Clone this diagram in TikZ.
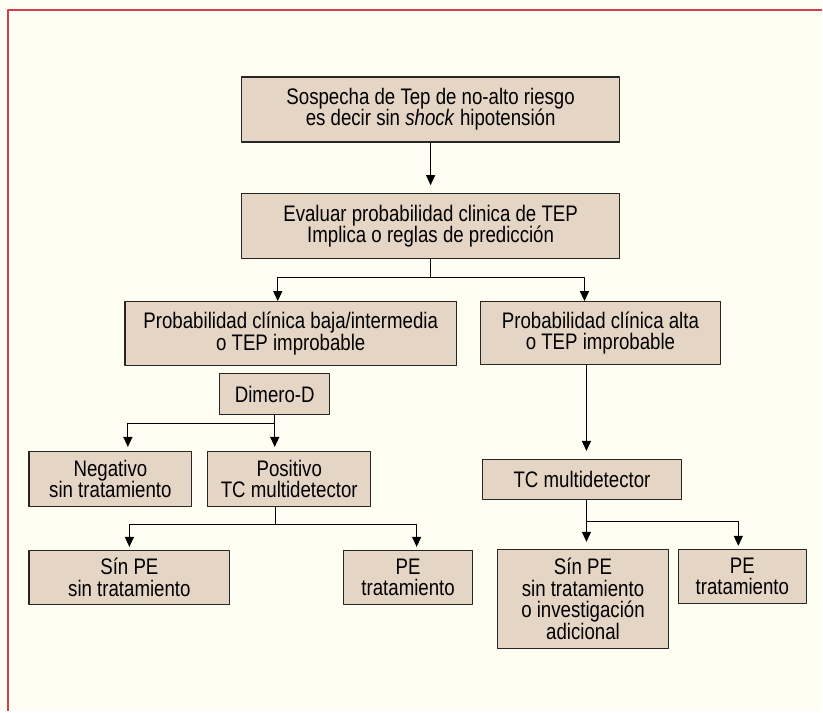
\documentclass[tikz,border=0pt]{standalone}
\usepackage{fontspec}
\setmainfont{Liberation Sans}[FakeStretch=0.83]
\usetikzlibrary{arrows.meta}
\definecolor{fondo}{RGB}{255,254,242}
\definecolor{caja}{RGB}{229,213,197}
\definecolor{borde}{RGB}{208,64,80}
\tikzset{paso/.style={draw=black!85,fill=caja,line width=1.3pt,align=center,inner sep=0pt}}
\begin{document}
\begin{tikzpicture}[x=1pt,y=-1pt,line join=round,>={Triangle[length=10pt,width=9pt]},font=\fontsize{22.5}{21.5}\selectfont,line width=1.2pt]
\fill[fondo] (0,0) rectangle (823,712);
\draw[borde,line width=1.5pt] (823,10)--(8,10)--(8,712);
\node[paso,minimum width=378pt,minimum height=65pt] (sosp) at (431,109.5) {Sospecha de Tep de no-alto riesgo\\es decir sin \textit{shock} hipotensión};
\node[paso,minimum width=378pt,minimum height=65pt] (eval) at (431,226.5) {Evaluar probabilidad clinica de TEP\\Implica o reglas de predicción};
\node[paso,minimum width=332pt,minimum height=64pt] (baja) at (291,334) {Probabilidad clínica baja/intermedia\\o TEP improbable};
\node[paso,minimum width=240pt,minimum height=63pt] (alta) at (601,333.5) {Probabilidad clínica alta\\o TEP improbable};
\node[paso,minimum width=110pt,minimum height=41pt] (dimero) at (275,394.5) {Dimero-D};
\node[paso,minimum width=163pt,minimum height=55pt] (neg) at (110.5,479.5) {Negativo\\sin tratamiento};
\node[paso,minimum width=163pt,minimum height=55pt] (pos) at (289.5,479.5) {Positivo\\TC multidetector};
\node[paso,minimum width=201pt,minimum height=54pt] (sinpeA) at (129.5,578) {Sín PE\\sin tratamiento};
\node[paso,minimum width=129pt,minimum height=54pt] (peA) at (408.5,578) {PE\\tratamiento};
\node[paso,minimum width=199pt,minimum height=40pt] (tc) at (582.5,480) {TC multidetector};
\node[paso,minimum width=171pt,minimum height=99pt] (sinpeB) at (583.5,599.5) {Sín PE\\sin tratamiento\\o investigación\\adicional};
\node[paso,minimum width=128pt,minimum height=54pt] (peB) at (743,577) {PE\\tratamiento};
\draw[->,shorten >=8pt] (sosp) -- (eval);
\draw[->] (eval.south) -- ++(0,18) -| ([xshift=-13pt]baja.north);
\draw[->] (eval.south) -- ++(0,18) -| ([xshift=-16pt]alta.north);
\draw[->,shorten >=4pt] (dimero.south) -- ++(0,8) -| ([xshift=17.5pt]neg.north);
\draw[->,shorten >=4pt] (dimero.south) -- (dimero.south |- pos.north);
\coordinate (p) at ([xshift=-13.5pt]pos.south);
\draw[->,shorten >=3pt] (p) -- ++(0,17) -| (sinpeA.north);
\draw[->,shorten >=3pt] (p) -- ++(0,17) -| ([xshift=8.5pt]peA.north);
\draw[->,shorten >=8pt] ([xshift=-14pt]alta.south) -- ([xshift=-14pt]alta.south |- tc.north);
\coordinate (t) at ([xshift=4.5pt]tc.south);
\draw[->,shorten >=7pt] (t) -- (t |- sinpeB.north);
\draw[->,shorten >=3pt] (t) -- ++(0,21) -| ([xshift=-4pt]peB.north);
\end{tikzpicture}
\end{document}
